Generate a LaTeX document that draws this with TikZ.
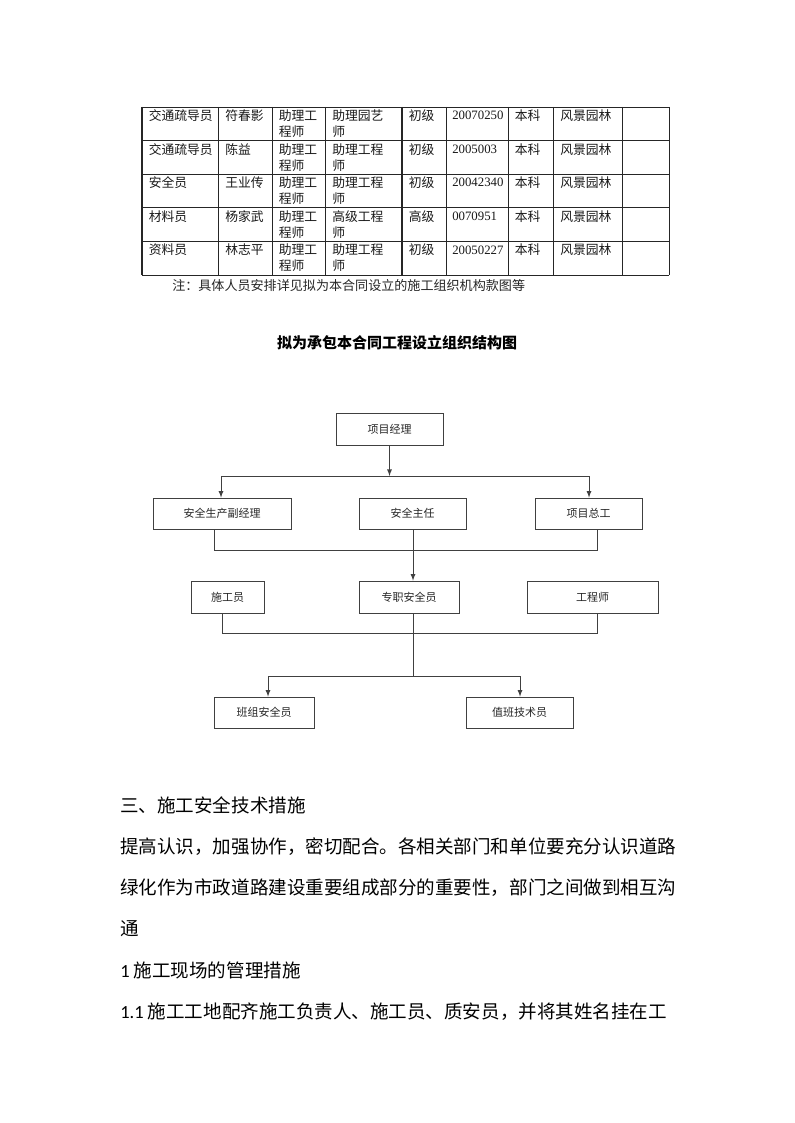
\documentclass[tikz,border=0pt]{standalone}
\usepackage{fontspec}
\newfontfamily\cjk{Noto Sans CJK SC}
\newfontfamily\numfont{Liberation Serif}
\newfontfamily\latinfont{Carlito}
\usepackage{tikz}
\usetikzlibrary{arrows,%
                shapes,positioning}

\tikzset{
  cell/.style={anchor=north west, inner sep=0pt, align=left, text=black!90,
    font=\cjk\fontsize{9.6}{12}\selectfont},
  numcell/.style={anchor=west, inner sep=0pt, text=black!90,
    font=\numfont\fontsize{9.6}{12}\selectfont},
  tabline/.style={draw=black!85, line width=0.6pt},
  orgbox/.style 2 args={draw=black!75, line width=0.6pt, inner sep=0pt,
    minimum width=#1*0.75pt, minimum height=#2*0.75pt, text=black!85,
    font=\cjk\fontsize{8.25}{10}\selectfont},
  orgline/.style={draw=black!75, line width=0.7pt},
  bodytext/.style={anchor=west, inner sep=0pt, font=\cjk\fontsize{13.9}{16}\selectfont}
}

\begin{document}
\begin{tikzpicture}[x=0.75pt,y=-0.75pt]
\fill[white] (0,0) rectangle (794,1123);
\useasboundingbox (0,0) rectangle (794,1123);

% table
\foreach \y in {107,140.6,174.2,207.8,241.4,275}
  \draw[tabline] (142,\y) -- (669,\y);
\foreach \x in {218,272,325,446,508,553,622,669}
  \draw[tabline] (\x,107) -- (\x,275);
\draw[tabline, line width=1.4pt] (142,107) -- (142,275);
\draw[tabline, line width=1.1pt] (402,107) -- (402,275);

\node[cell] (r1a) at (148.5,109.5) {交通疏导员};
\node[cell] (r1b) at (225,109.5) {符春影};
\node[cell] (r1c) at (278.5,109.5) {助理工\\程师};
\node[cell] (r1d) at (332,109.5) {助理园艺\\师};
\node[cell] (r1e) at (408.5,109.5) {初级};
\node[numcell] (r1f) at (452,115.5) {20070250};
\node[cell] (r1g) at (514.5,109.5) {本科};
\node[cell] (r1h) at (560,109.5) {风景园林};

\node[cell] (r2a) at (148.5,143.1) {交通疏导员};
\node[cell] (r2b) at (225,143.1) {陈益};
\node[cell] (r2c) at (278.5,143.1) {助理工\\程师};
\node[cell] (r2d) at (332,143.1) {助理工程\\师};
\node[cell] (r2e) at (408.5,143.1) {初级};
\node[numcell] (r2f) at (452,149.1) {2005003};
\node[cell] (r2g) at (514.5,143.1) {本科};
\node[cell] (r2h) at (560,143.1) {风景园林};

\node[cell] (r3a) at (148.5,176.7) {安全员};
\node[cell] (r3b) at (225,176.7) {王业传};
\node[cell] (r3c) at (278.5,176.7) {助理工\\程师};
\node[cell] (r3d) at (332,176.7) {助理工程\\师};
\node[cell] (r3e) at (408.5,176.7) {初级};
\node[numcell] (r3f) at (452,182.7) {20042340};
\node[cell] (r3g) at (514.5,176.7) {本科};
\node[cell] (r3h) at (560,176.7) {风景园林};

\node[cell] (r4a) at (148.5,210.3) {材料员};
\node[cell] (r4b) at (225,210.3) {杨家武};
\node[cell] (r4c) at (278.5,210.3) {助理工\\程师};
\node[cell] (r4d) at (332,210.3) {高级工程\\师};
\node[cell] (r4e) at (408.5,210.3) {高级};
\node[numcell] (r4f) at (452,216.3) {0070951};
\node[cell] (r4g) at (514.5,210.3) {本科};
\node[cell] (r4h) at (560,210.3) {风景园林};

\node[cell] (r5a) at (148.5,243.9) {资料员};
\node[cell] (r5b) at (225,243.9) {林志平};
\node[cell] (r5c) at (278.5,243.9) {助理工\\程师};
\node[cell] (r5d) at (332,243.9) {助理工程\\师};
\node[cell] (r5e) at (408.5,243.9) {初级};
\node[numcell] (r5f) at (452,249.9) {20050227};
\node[cell] (r5g) at (514.5,243.9) {本科};
\node[cell] (r5h) at (560,243.9) {风景园林};

\node[anchor=west, inner sep=0pt, text=black!85, font=\cjk\fontsize{9.8}{12}\selectfont]
  (note) at (172,286) {注：具体人员安排详见拟为本合同设立的施工组织机构款图等};

% chart
\node[inner sep=0pt, font=\cjk\bfseries\fontsize{11.25}{14}\selectfont]
  (title) at (397,343) {拟为承包本合同工程设立组织结构图};

\node[orgbox={107}{32}] (pm) at (389.5,429) {项目经理};
\node[orgbox={138}{31}] (vicepm) at (222,513.5) {安全生产副经理};
\node[orgbox={107}{31}] (safedir) at (412.5,513.5) {安全主任};
\node[orgbox={107}{31}] (chiefeng) at (588.5,513.5) {项目总工};
\node[orgbox={73}{32}] (worker) at (227.5,597) {施工员};
\node[orgbox={100}{32}] (safeofficer) at (409,597) {专职安全员};
\node[orgbox={131}{32}] (engineer) at (592.5,597) {工程师};
\node[orgbox={100}{31}] (teamsafe) at (264,712.5) {班组安全员};
\node[orgbox={107}{31}] (dutytech) at (519.5,712.5) {值班技术员};

\coordinate (topbusl) at (221,476);
\coordinate (topbusr) at (589,476);
\draw[orgline,-latex] (pm.south) -- (pm.south |- topbusl);
\draw[orgline] (topbusl) -- (topbusr);
\draw[orgline,-latex] (topbusl) -- (vicepm.north -| topbusl);
\draw[orgline,-latex] (topbusr) -- (chiefeng.north -| topbusr);

\coordinate (midbusl) at (214,550);
\coordinate (midbusr) at (597,550);
\draw[orgline] (vicepm.south -| midbusl) -- (midbusl) -- (midbusr) -- (chiefeng.south -| midbusr);
\coordinate (spine) at (413,600);
\draw[orgline,-latex] (safedir.south -| spine) -- (safeofficer.north -| spine);

\coordinate (lowbusl) at (222,633);
\coordinate (lowbusr) at (597,633);
\draw[orgline] (worker.south -| lowbusl) -- (lowbusl) -- (lowbusr) -- (engineer.south -| lowbusr);

\coordinate (botbusl) at (268,676);
\coordinate (botbusr) at (520,676);
\draw[orgline] (safeofficer.south -| spine) -- (spine |- botbusl);
\draw[orgline] (botbusl) -- (botbusr);
\draw[orgline,-latex] (botbusl) -- (teamsafe.north -| botbusl);
\draw[orgline,-latex] (botbusr) -- (dutytech.north -| botbusr);

% text
\node[bodytext] (head) at (120,805) {三、施工安全技术措施};
\node[bodytext] (para1) at (120,846.5) {提高认识，加强协作，密切配合。各相关部门和单位要充分认识道路};
\node[bodytext] (para2) at (120,888) {绿化作为市政道路建设重要组成部分的重要性，部门之间做到相互沟};
\node[bodytext] (para3) at (120,929) {通};
\node[bodytext] (sec1) at (120,970.5) {{\latinfont 1} 施工现场的管理措施};
\node[bodytext] (sec11) at (120,1012) {{\latinfont 1.1} 施工工地配齐施工负责人、施工员、质安员，并将其姓名挂在工};

\end{tikzpicture}
\end{document}
